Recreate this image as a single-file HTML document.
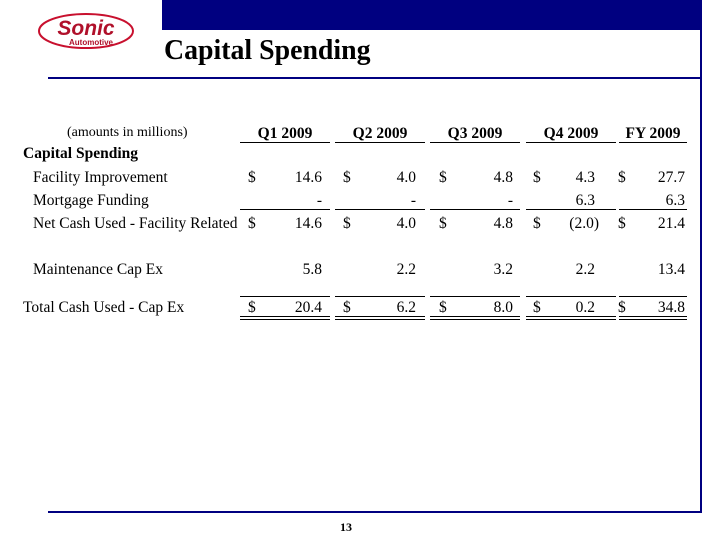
<!DOCTYPE html>
<html><head><meta charset="utf-8"><style>
body{margin:0;width:720px;height:540px;background:#fff;position:relative;overflow:hidden;font-family:"Liberation Serif",serif;color:#000}
.a{position:absolute;white-space:nowrap}
.t{font-size:15.5px;line-height:15px}
.r{text-align:right}
.l{position:absolute;background:#000;height:1px}
</style></head><body>
<div class="a" style="left:162px;top:0;width:540px;height:30px;background:#000080"></div>
<div class="a" style="left:700px;top:30px;width:2px;height:483px;background:#000080"></div>
<div class="a" style="left:48px;top:77px;width:654px;height:2px;background:#000080"></div>
<div class="a" style="left:48px;top:511px;width:654px;height:2px;background:#000080"></div>
<div class="a" style="left:164px;top:32px;font-size:29px;font-weight:bold;line-height:36px;transform:scaleX(0.96);transform-origin:0 0">Capital Spending</div>
<svg class="a" style="left:36px;top:10px" width="104" height="42" viewBox="0 0 104 42">
<ellipse cx="50" cy="21" rx="47" ry="17" fill="none" stroke="#c8102e" stroke-width="2"/>
<text x="50" y="25" text-anchor="middle" font-family="Liberation Sans" font-weight="bold" font-style="italic" font-size="21" fill="#b0102a">Sonic</text>
<text x="55" y="35" text-anchor="middle" font-family="Liberation Sans" font-weight="bold" font-size="8" fill="#b0102a">Automotive</text>
</svg>
<div class="a" style="left:340px;top:520px;font-size:12px;font-weight:bold">13</div>

<div class="a t" style="left:67px;top:125px;font-size:14px">(amounts in millions)</div>
<div class="a t" style="left:23px;top:146px;font-weight:bold">Capital Spending</div>
<div class="a t" style="left:33px;top:170px">Facility Improvement</div>
<div class="a t" style="left:33px;top:193px">Mortgage Funding</div>
<div class="a t" style="left:33px;top:216px">Net Cash Used - Facility Related</div>
<div class="a t" style="left:33px;top:262px">Maintenance Cap Ex</div>
<div class="a t" style="left:23px;top:300px">Total Cash Used - Cap Ex</div>

<div class="a t" style="left:240px;width:90px;top:126px;text-align:center;font-weight:bold">Q1 2009</div>
<div class="a t" style="left:335px;width:90px;top:126px;text-align:center;font-weight:bold">Q2 2009</div>
<div class="a t" style="left:430px;width:90px;top:126px;text-align:center;font-weight:bold">Q3 2009</div>
<div class="a t" style="left:526px;width:90px;top:126px;text-align:center;font-weight:bold">Q4 2009</div>
<div class="a t" style="left:619px;width:68px;top:126px;text-align:center;font-weight:bold">FY 2009</div>

<div class="l" style="left:240px;width:90px;top:142px"></div>
<div class="l" style="left:335px;width:90px;top:142px"></div>
<div class="l" style="left:430px;width:90px;top:142px"></div>
<div class="l" style="left:526px;width:90px;top:142px"></div>
<div class="l" style="left:619px;width:68px;top:142px"></div>

<div class="l" style="left:240px;width:90px;top:209px"></div>
<div class="l" style="left:335px;width:90px;top:209px"></div>
<div class="l" style="left:430px;width:90px;top:209px"></div>
<div class="l" style="left:526px;width:90px;top:209px"></div>
<div class="l" style="left:619px;width:68px;top:209px"></div>

<div class="l" style="left:240px;width:90px;top:296px"></div>
<div class="l" style="left:335px;width:90px;top:296px"></div>
<div class="l" style="left:430px;width:90px;top:296px"></div>
<div class="l" style="left:526px;width:90px;top:296px"></div>
<div class="l" style="left:619px;width:68px;top:296px"></div>
<div class="l" style="left:240px;width:90px;top:316px"></div>
<div class="l" style="left:335px;width:90px;top:316px"></div>
<div class="l" style="left:430px;width:90px;top:316px"></div>
<div class="l" style="left:526px;width:90px;top:316px"></div>
<div class="l" style="left:619px;width:68px;top:316px"></div>
<div class="l" style="left:240px;width:90px;top:319px"></div>
<div class="l" style="left:335px;width:90px;top:319px"></div>
<div class="l" style="left:430px;width:90px;top:319px"></div>
<div class="l" style="left:526px;width:90px;top:319px"></div>
<div class="l" style="left:619px;width:68px;top:319px"></div>

<div class="a t" style="left:248px;top:170px">$</div><div class="a t" style="left:343px;top:170px">$</div><div class="a t" style="left:439px;top:170px">$</div><div class="a t" style="left:533px;top:170px">$</div><div class="a t" style="left:618px;top:170px">$</div>
<div class="a t" style="left:248px;top:216px">$</div><div class="a t" style="left:343px;top:216px">$</div><div class="a t" style="left:439px;top:216px">$</div><div class="a t" style="left:533px;top:216px">$</div><div class="a t" style="left:618px;top:216px">$</div>
<div class="a t" style="left:248px;top:300px">$</div><div class="a t" style="left:343px;top:300px">$</div><div class="a t" style="left:439px;top:300px">$</div><div class="a t" style="left:533px;top:300px">$</div><div class="a t" style="left:618px;top:300px">$</div>

<div class="a t r" style="right:398px;top:170px">14.6</div><div class="a t r" style="right:304px;top:170px">4.0</div><div class="a t r" style="right:207px;top:170px">4.8</div><div class="a t r" style="right:125px;top:170px">4.3</div><div class="a t r" style="right:35px;top:170px">27.7</div>
<div class="a t r" style="right:398px;top:193px">-</div><div class="a t r" style="right:304px;top:193px">-</div><div class="a t r" style="right:207px;top:193px">-</div><div class="a t r" style="right:125px;top:193px">6.3</div><div class="a t r" style="right:35px;top:193px">6.3</div>
<div class="a t r" style="right:398px;top:216px">14.6</div><div class="a t r" style="right:304px;top:216px">4.0</div><div class="a t r" style="right:207px;top:216px">4.8</div><div class="a t r" style="right:121px;top:216px">(2.0)</div><div class="a t r" style="right:35px;top:216px">21.4</div>
<div class="a t r" style="right:398px;top:262px">5.8</div><div class="a t r" style="right:304px;top:262px">2.2</div><div class="a t r" style="right:207px;top:262px">3.2</div><div class="a t r" style="right:125px;top:262px">2.2</div><div class="a t r" style="right:35px;top:262px">13.4</div>
<div class="a t r" style="right:398px;top:300px">20.4</div><div class="a t r" style="right:304px;top:300px">6.2</div><div class="a t r" style="right:207px;top:300px">8.0</div><div class="a t r" style="right:125px;top:300px">0.2</div><div class="a t r" style="right:35px;top:300px">34.8</div>
</body></html>
